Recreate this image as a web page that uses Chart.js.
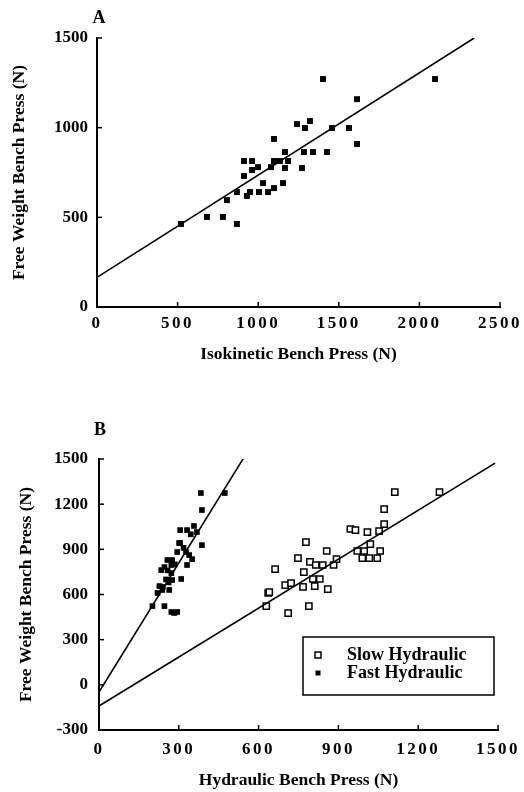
<!DOCTYPE html>
<html>
<head>
<meta charset="utf-8">
<script src="https://cdn.jsdelivr.net/npm/chart.js@4.4.1/dist/chart.umd.min.js"></script>
<style>
  html, body { margin: 0; padding: 0; background: #fff; }
  canvas { position: absolute; left: 0; }
</style>
</head>
<body>
<canvas id="chartA" width="524" height="392" style="top:0"></canvas>
<canvas id="chartB" width="524" height="400" style="top:392px"></canvas>
<script>
// Panel A - isokinetic vs free weight bench press (N)
const isoX = [521, 682, 781, 806, 868, 868, 912, 912, 930, 949, 962, 962, 999, 1005, 1030, 1061, 1079,
  1098, 1098, 1098, 1135, 1154, 1166, 1166, 1185, 1241, 1272, 1284, 1290, 1321, 1340, 1402, 1427,
  1458, 1563, 1613, 1613, 2097];
const isoFreeY = [463, 502, 502, 596, 463, 641, 730, 814, 619, 641, 814, 764, 780, 641, 691, 641, 780,
  663, 814, 937, 814, 691, 864, 775, 814, 1020, 775, 864, 998, 1037, 864, 1271, 864,
  998, 998, 1159, 909, 1271];
const isoFitX = [0, 2340];
const isoFitY = [165, 1500];
const aXTicks = [0, 500, 1000, 1500, 2000, 2500];
const aYTicks = [0, 500, 1000, 1500];

// Panel B - hydraulic vs free weight bench press (N)
const slowX = [629, 636, 640, 662, 700, 711, 722, 748, 767, 770, 778, 789, 793, 804, 811, 815, 830,
  841, 856, 860, 882, 893, 945, 964, 971, 990, 997, 1009, 1016, 1020, 1046, 1053, 1057, 1072,
  1072, 1112, 1280];
const slowY = [523, 610, 616, 769, 663, 477, 676, 842, 650, 749, 948, 523, 816, 703, 656, 796, 703,
  796, 889, 636, 796, 835, 1035, 1028, 889, 842, 889, 1015, 842, 935, 842, 1021, 889, 1068,
  1167, 1280, 1280];
const fastX = [201, 220, 227, 234, 238, 240, 246, 246, 252, 257, 258, 262, 264, 272, 272, 272, 275,
  275, 283, 285, 294, 294, 301, 305, 305, 309, 318, 327, 331, 331, 339, 345, 350, 357, 368,
  383, 387, 387, 473];
const fastY = [523, 610, 656, 762, 630, 650, 782, 523, 700, 829, 760, 680, 630, 796, 742, 484, 829,
  696, 477, 800, 882, 484, 942, 1028, 942, 703, 910, 882, 1028, 796, 862, 1000, 835, 1055, 1015,
  1274, 1161, 928, 1274];
const slowFitX = [0, 1489];
const slowFitY = [-141, 1473];
const fastFitX = [0, 543];
const fastFitY = [-48, 1505];
const bXTicks = [0, 300, 600, 900, 1200, 1500];
const bYTicks = [-300, 0, 300, 600, 900, 1200, 1500];

const SERIF = "'Liberation Serif', 'Times New Roman', serif";

const toPoints = (xs, ys) => xs.map((x, i) => ({ x: x, y: ys[i] }));

// small tick marks pointing into the plot, like the original figure
const inwardTicks = {
  id: 'inwardTicks',
  afterDraw(chart) {
    const ctx = chart.ctx;
    const { x, y } = chart.scales;
    const area = chart.chartArea;
    ctx.save();
    ctx.strokeStyle = '#000';
    ctx.lineWidth = 1.5;
    x.ticks.forEach(t => {
      const px = x.getPixelForValue(t.value);
      ctx.beginPath();
      ctx.moveTo(px, area.bottom);
      ctx.lineTo(px, area.bottom - 5);
      ctx.stroke();
    });
    y.ticks.forEach(t => {
      const py = y.getPixelForValue(t.value);
      ctx.beginPath();
      ctx.moveTo(area.left, py);
      ctx.lineTo(area.left + 5, py);
      ctx.stroke();
    });
    ctx.restore();
  }
};

// "A" / "B" panel letter
const panelLabel = {
  id: 'panelLabel',
  afterDraw(chart, args, opts) {
    if (!opts.text) return;
    const ctx = chart.ctx;
    ctx.save();
    ctx.font = 'bold 18px ' + SERIF;
    ctx.fillStyle = '#000';
    ctx.textAlign = 'center';
    ctx.textBaseline = 'middle';
    ctx.fillText(opts.text, opts.x, opts.y);
    ctx.restore();
  }
};

// boxed legend inside the plot area (panel B)
const boxLegend = {
  id: 'boxLegend',
  afterDraw(chart, args, opts) {
    if (!opts.display) return;
    const ctx = chart.ctx;
    const items = chart.data.datasets.filter(d => d.label);
    ctx.save();
    ctx.strokeStyle = '#000';
    ctx.lineWidth = 1.5;
    ctx.fillStyle = '#fff';
    ctx.fillRect(opts.left, opts.top, opts.width, opts.height);
    ctx.strokeRect(opts.left, opts.top, opts.width, opts.height);
    ctx.font = 'bold 18px ' + SERIF;
    ctx.textBaseline = 'middle';
    items.forEach((d, i) => {
      const cy = opts.top + opts.rowStart + i * opts.rowGap;
      const cx = opts.left + opts.markerX;
      const s = d.legendSize;
      if (d.backgroundColor === '#fff') {
        ctx.lineWidth = 1.5;
        ctx.strokeRect(cx - s / 2, cy - s / 2, s, s);
      } else {
        ctx.fillStyle = '#000';
        ctx.fillRect(cx - s / 2, cy - s / 2, s, s);
      }
      ctx.fillStyle = '#000';
      ctx.fillText(d.label, opts.left + opts.textX, cy);
    });
    ctx.restore();
  }
};

// the x tick numbers in the figure are widely spaced
function spaceLabels(s, spacing) {
  if (s._spaced) return;
  const orig = s.drawLabels.bind(s);
  s.drawLabels = function (area) {
    this.ctx.letterSpacing = spacing;
    orig(area);
    this.ctx.letterSpacing = '0px';
  };
  s._spaced = true;
}

function axis(ticks, min, max, opts) {
  return {
    type: 'linear',
    min: min,
    max: max,
    afterBuildTicks: s => { s.ticks = ticks.map(v => ({ value: v })); },
    afterFit: opts.fit,
    grid: { display: true, drawOnChartArea: false, drawTicks: false, color: 'rgba(0,0,0,0)' },
    border: { display: true, color: '#000', width: 2 },
    ticks: {
      color: '#000',
      padding: opts.tickPad,
      font: { family: SERIF, size: 17, weight: 'bold' },
      callback: v => String(v)
    },
    title: {
      display: true,
      text: opts.title,
      color: '#000',
      padding: opts.titlePad,
      font: { family: SERIF, size: 17.5, weight: 'bold' }
    }
  };
}

function lineSet(xs, ys) {
  return {
    type: 'line',
    data: toPoints(xs, ys),
    borderColor: '#000',
    borderWidth: 1.6,
    pointRadius: 0,
    fill: false,
    tension: 0
  };
}

new Chart(document.getElementById('chartA'), {
  type: 'scatter',
  data: {
    datasets: [
      lineSet(isoFitX, isoFitY),
      {
        data: toPoints(isoX, isoFreeY),
        pointStyle: 'rect',
        pointRadius: 4.2,
        backgroundColor: '#000',
        borderColor: '#000',
        borderWidth: 0
      }
    ]
  },
  options: {
    responsive: false,
    animation: false,
    devicePixelRatio: 1,
    layout: { padding: { top: 38, right: 24, left: 0, bottom: 0 } },
    scales: {
      x: axis(aXTicks, 0, 2500, {
        title: 'Isokinetic Bench Press (N)',
        tickPad: 6,
        titlePad: { top: 0, bottom: 27 },
        fit: s => { s.height = 85; spaceLabels(s, '2.5px'); }
      }),
      y: axis(aYTicks, 0, 1500, {
        title: 'Free Weight Bench Press (N)',
        tickPad: 9,
        titlePad: { top: 9, bottom: 0 },
        fit: s => { s.width = 97; }
      })
    },
    plugins: {
      legend: { display: false },
      tooltip: { enabled: false },
      panelLabel: { text: 'A', x: 99, y: 18 },
      boxLegend: { display: false }
    }
  },
  plugins: [inwardTicks, panelLabel, boxLegend]
});

new Chart(document.getElementById('chartB'), {
  type: 'scatter',
  data: {
    datasets: [
      lineSet(fastFitX, fastFitY),
      lineSet(slowFitX, slowFitY),
      {
        label: 'Slow Hydraulic',
        data: toPoints(slowX, slowY),
        pointStyle: 'rect',
        pointRadius: 4.4,
        backgroundColor: '#fff',
        borderColor: '#000',
        borderWidth: 1.5,
        legendSize: 6
      },
      {
        label: 'Fast Hydraulic',
        data: toPoints(fastX, fastY),
        pointStyle: 'rect',
        pointRadius: 4,
        backgroundColor: '#000',
        borderColor: '#000',
        borderWidth: 0,
        legendSize: 5
      }
    ]
  },
  options: {
    responsive: false,
    animation: false,
    devicePixelRatio: 1,
    layout: { padding: { top: 67, right: 22, left: 0, bottom: 0 } },
    scales: {
      x: axis(bXTicks, 0, 1500, {
        title: 'Hydraulic Bench Press (N)',
        tickPad: 9,
        titlePad: { top: 0, bottom: 1 },
        fit: s => { s.height = 62; spaceLabels(s, '2.5px'); }
      }),
      y: axis(bYTicks, -300, 1500, {
        title: 'Free Weight Bench Press (N)',
        tickPad: 11,
        titlePad: { top: 16, bottom: 0 },
        fit: s => { s.width = 99; }
      })
    },
    plugins: {
      legend: { display: false },
      tooltip: { enabled: false },
      panelLabel: { text: 'B', x: 100, y: 38 },
      boxLegend: {
        display: true, left: 303, top: 245, width: 191, height: 58,
        markerX: 15, textX: 44, rowStart: 18, rowGap: 18
      }
    }
  },
  plugins: [inwardTicks, panelLabel, boxLegend]
});
</script>
</body>
</html>
